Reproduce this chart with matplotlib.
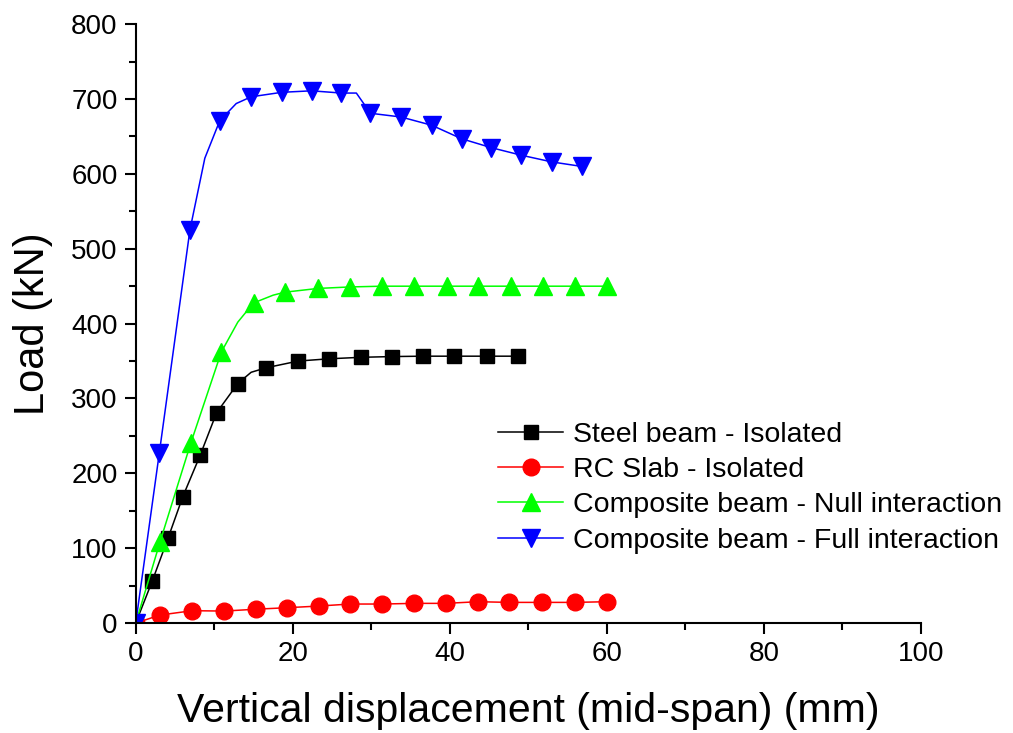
import matplotlib
matplotlib.use("Agg")
import matplotlib.pyplot as plt
from matplotlib.ticker import MultipleLocator

plt.rcParams['font.family'] = ['Liberation Sans', 'DejaVu Sans']

# Steel beam - Isolated
steel_x = [0, 2.1, 4.1, 6.0, 8.2, 10.3, 13.0, 14.7, 16.6, 20.7, 24.6, 28.7, 32.7, 36.6, 40.6, 44.7, 48.7]
steel_y = [0, 56, 113, 169, 224, 281, 320, 335, 341, 350, 353, 355, 356, 356.5, 356.5, 356.5, 356.5]
steel_marks = [0, 1, 2, 3, 4, 5, 6, 8, 9, 10, 11, 12, 13, 14, 15, 16]

# RC Slab - Isolated
slab_x = [0, 3.1, 7.2, 11.3, 15.3, 19.3, 23.3, 27.3, 31.4, 35.5, 39.5, 43.6, 47.6, 51.8, 55.9, 60.0]
slab_y = [0, 10.7, 16.5, 16.0, 18.5, 20.5, 22.7, 25.4, 25.4, 26.3, 26.3, 28.5, 27.6, 27.6, 27.6, 28.5]
slab_marks = list(range(len(slab_x)))

# Composite beam - Null interaction
null_x = [0, 3.1, 7.0, 10.9, 13.0, 15.0, 17.5, 19.0, 23.2, 27.3, 31.4, 35.5, 39.6, 43.6, 47.8, 51.9, 55.9, 60.0]
null_y = [0, 108.6, 240, 362, 402, 427.6, 438, 442, 447, 449, 450, 450, 450, 450, 450, 450, 450, 450]
null_marks = [0, 1, 2, 3, 5, 7, 8, 9, 10, 11, 12, 13, 14, 15, 16, 17]

# Composite beam - Full interaction
full_x = [0, 3.0, 6.9, 8.8, 10.7, 12.8, 14.7, 18.6, 22.4, 26.2, 28.1, 29.9, 33.8, 37.7, 41.5, 45.3, 49.1, 53.0, 56.8]
full_y = [0, 227, 525, 621, 671, 694, 703, 709, 711, 708, 708, 681, 676, 665, 647, 635, 625, 616, 610]
full_marks = [0, 1, 2, 4, 6, 7, 8, 9, 11, 12, 13, 14, 15, 16, 17, 18]

labels = ["Steel beam - Isolated", "RC Slab - Isolated",
          "Composite beam - Null interaction", "Composite beam - Full interaction"]

fig = plt.figure(figsize=(10.13, 7.33), dpi=100)
ax = fig.add_axes([0.134, 0.150, 0.775, 0.817])

lw = 1.1
ax.plot(steel_x, steel_y, color='black', lw=lw, marker='s', markersize=10,
        markevery=steel_marks, label=labels[0])
ax.plot(slab_x, slab_y, color='#ff0000', lw=lw, marker='o', markersize=12,
        markevery=slab_marks, label=labels[1])
ax.plot(null_x, null_y, color='#00ff00', lw=lw, marker='^', markersize=13,
        markevery=null_marks, label=labels[2])
ax.plot(full_x, full_y, color='#0000ff', lw=lw, marker='v', markersize=13,
        markevery=full_marks, label=labels[3])

ax.set_xlim(0, 100)
ax.set_ylim(0, 800)
ax.xaxis.set_major_locator(MultipleLocator(20))
ax.xaxis.set_minor_locator(MultipleLocator(10))
ax.yaxis.set_major_locator(MultipleLocator(100))
ax.yaxis.set_minor_locator(MultipleLocator(50))

for s in ['top', 'right']:
    ax.spines[s].set_visible(False)
for s in ['left', 'bottom']:
    ax.spines[s].set_linewidth(1.5)

ax.tick_params(which='major', direction='out', length=8, width=1.5, labelsize=20, pad=5)
ax.tick_params(which='minor', direction='out', length=5, width=1.5)

ax.set_xlabel("Vertical displacement (mid-span) (mm)", fontsize=29.5, labelpad=18)
ax.set_ylabel("Load (kN)", fontsize=30, labelpad=13)

ax.legend(loc='center left', bbox_to_anchor=(0.443, 0.226), frameon=False,
          fontsize=20.5, handlelength=2.3, handletextpad=0.35, labelspacing=0.33,
          borderpad=0)

fig.savefig("out.png", dpi=100)
